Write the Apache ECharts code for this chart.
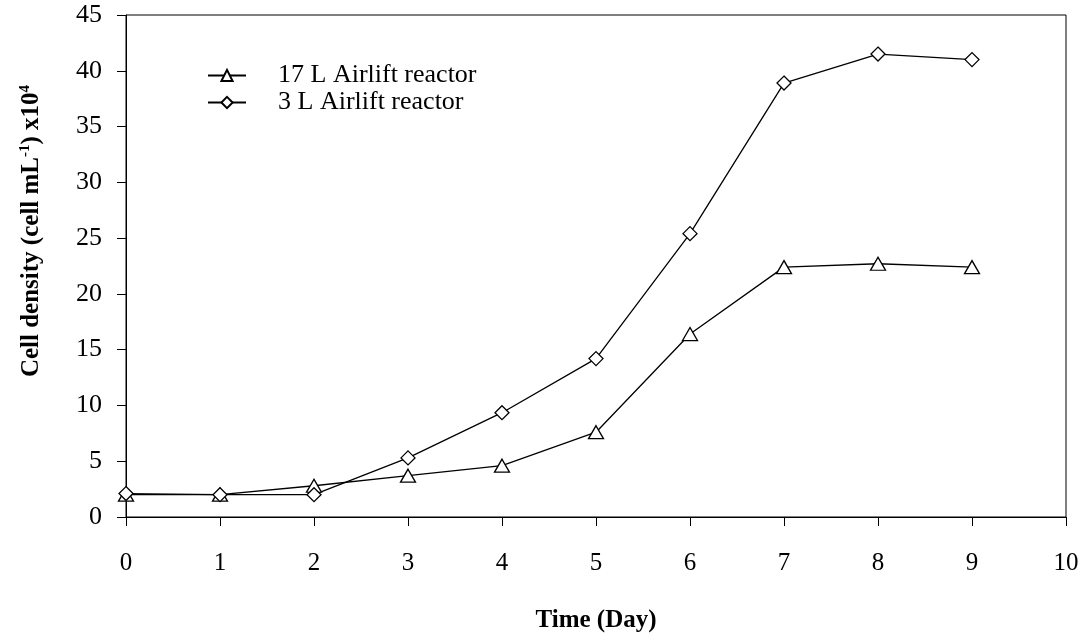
<!DOCTYPE html>
<html>
<head>
<meta charset="utf-8">
<script src="https://cdn.jsdelivr.net/npm/echarts@6/dist/echarts.min.js"></script>
<style>
  html, body { margin: 0; padding: 0; background: #fff; }
  #chart { width: 1086px; height: 639px; }
</style>
</head>
<body>
<div id="chart"></div>
<script>
// Culture time in days
const days = [0, 1, 2, 3, 4, 5, 6, 7, 8, 9];
// Cell density (x10^4 cell/mL) in each reactor
const reactor17L = [2.0, 2.0, 2.8, 3.7, 4.6, 7.6, 16.4, 22.4, 22.7, 22.4];
const reactor3L = [2.1, 2.0, 2.0, 5.3, 9.35, 14.2, 25.4, 38.9, 41.5, 41.0];
const seriesNames = ['17 L Airlift reactor', '3 L Airlift reactor'];

const serif = 'Liberation Serif, Times New Roman, serif';

const pairs = (ys) => days.map((d, i) => [d, ys[i]]);

const chart = echarts.init(document.getElementById('chart'), null, { renderer: 'canvas' });

const lineSeries = (name, ys, symbol, size) => ({
  name: name,
  type: 'line',
  data: pairs(ys),
  symbol: symbol,
  symbolSize: size,
  showAllSymbol: true,
  lineStyle: { color: '#000', width: 1.3 },
  itemStyle: { color: '#fff', borderColor: '#000', borderWidth: 1.3 },
  emphasis: { disabled: true },
  animation: false
});

chart.setOption({
  backgroundColor: '#fff',
  animation: false,
  grid: {
    left: 126, right: 20, top: 15, bottom: 122,
    show: true, borderColor: '#000', borderWidth: 1, backgroundColor: 'transparent'
  },
  legend: {
    orient: 'vertical',
    left: 202, top: 57,
    itemWidth: 38, itemHeight: 14,
    itemGap: 0,
    data: seriesNames,
    textStyle: { fontFamily: serif, fontSize: 26, lineHeight: 27, color: '#000', padding: [0, 0, 0, 27] }
  },
  xAxis: {
    type: 'value',
    min: 0, max: 10, interval: 1,
    name: 'Time (Day)',
    nameLocation: 'middle',
    nameGap: 91,
    nameTextStyle: { fontFamily: serif, fontSize: 25, fontWeight: 'bold', color: '#000' },
    axisLine: { show: true, onZero: false, lineStyle: { color: '#000', width: 1 } },
    axisTick: { show: true, inside: false, length: 9, lineStyle: { color: '#000' } },
    axisLabel: { fontFamily: serif, fontSize: 25, color: '#000', margin: 34 },
    splitLine: { show: false }
  },
  yAxis: {
    type: 'value',
    min: 0, max: 45, interval: 5,
    name: 'Cell density (cell mL{sup|-1}) x10{sup|4}',
    nameLocation: 'middle',
    nameGap: 80,
    nameTextStyle: {
      fontFamily: serif, fontSize: 25, fontWeight: 'bold', color: '#000',
      padding: [0, 0, 0, 70],
      rich: {
        sup: { fontFamily: serif, fontSize: 15, fontWeight: 'bold', color: '#000', verticalAlign: 'top', padding: [0, 0, 13, 0] }
      }
    },
    axisLine: { show: true, onZero: false, lineStyle: { color: '#000', width: 1 } },
    axisTick: { show: true, inside: false, length: 9, lineStyle: { color: '#000' } },
    axisLabel: { fontFamily: serif, fontSize: 26, color: '#000', margin: 24 },
    splitLine: { show: false }
  },
  series: [
    lineSeries(seriesNames[0], reactor17L, 'triangle', [15, 13]),
    lineSeries(seriesNames[1], reactor3L, 'diamond', [14, 14])
  ]
});
</script>
</body>
</html>
